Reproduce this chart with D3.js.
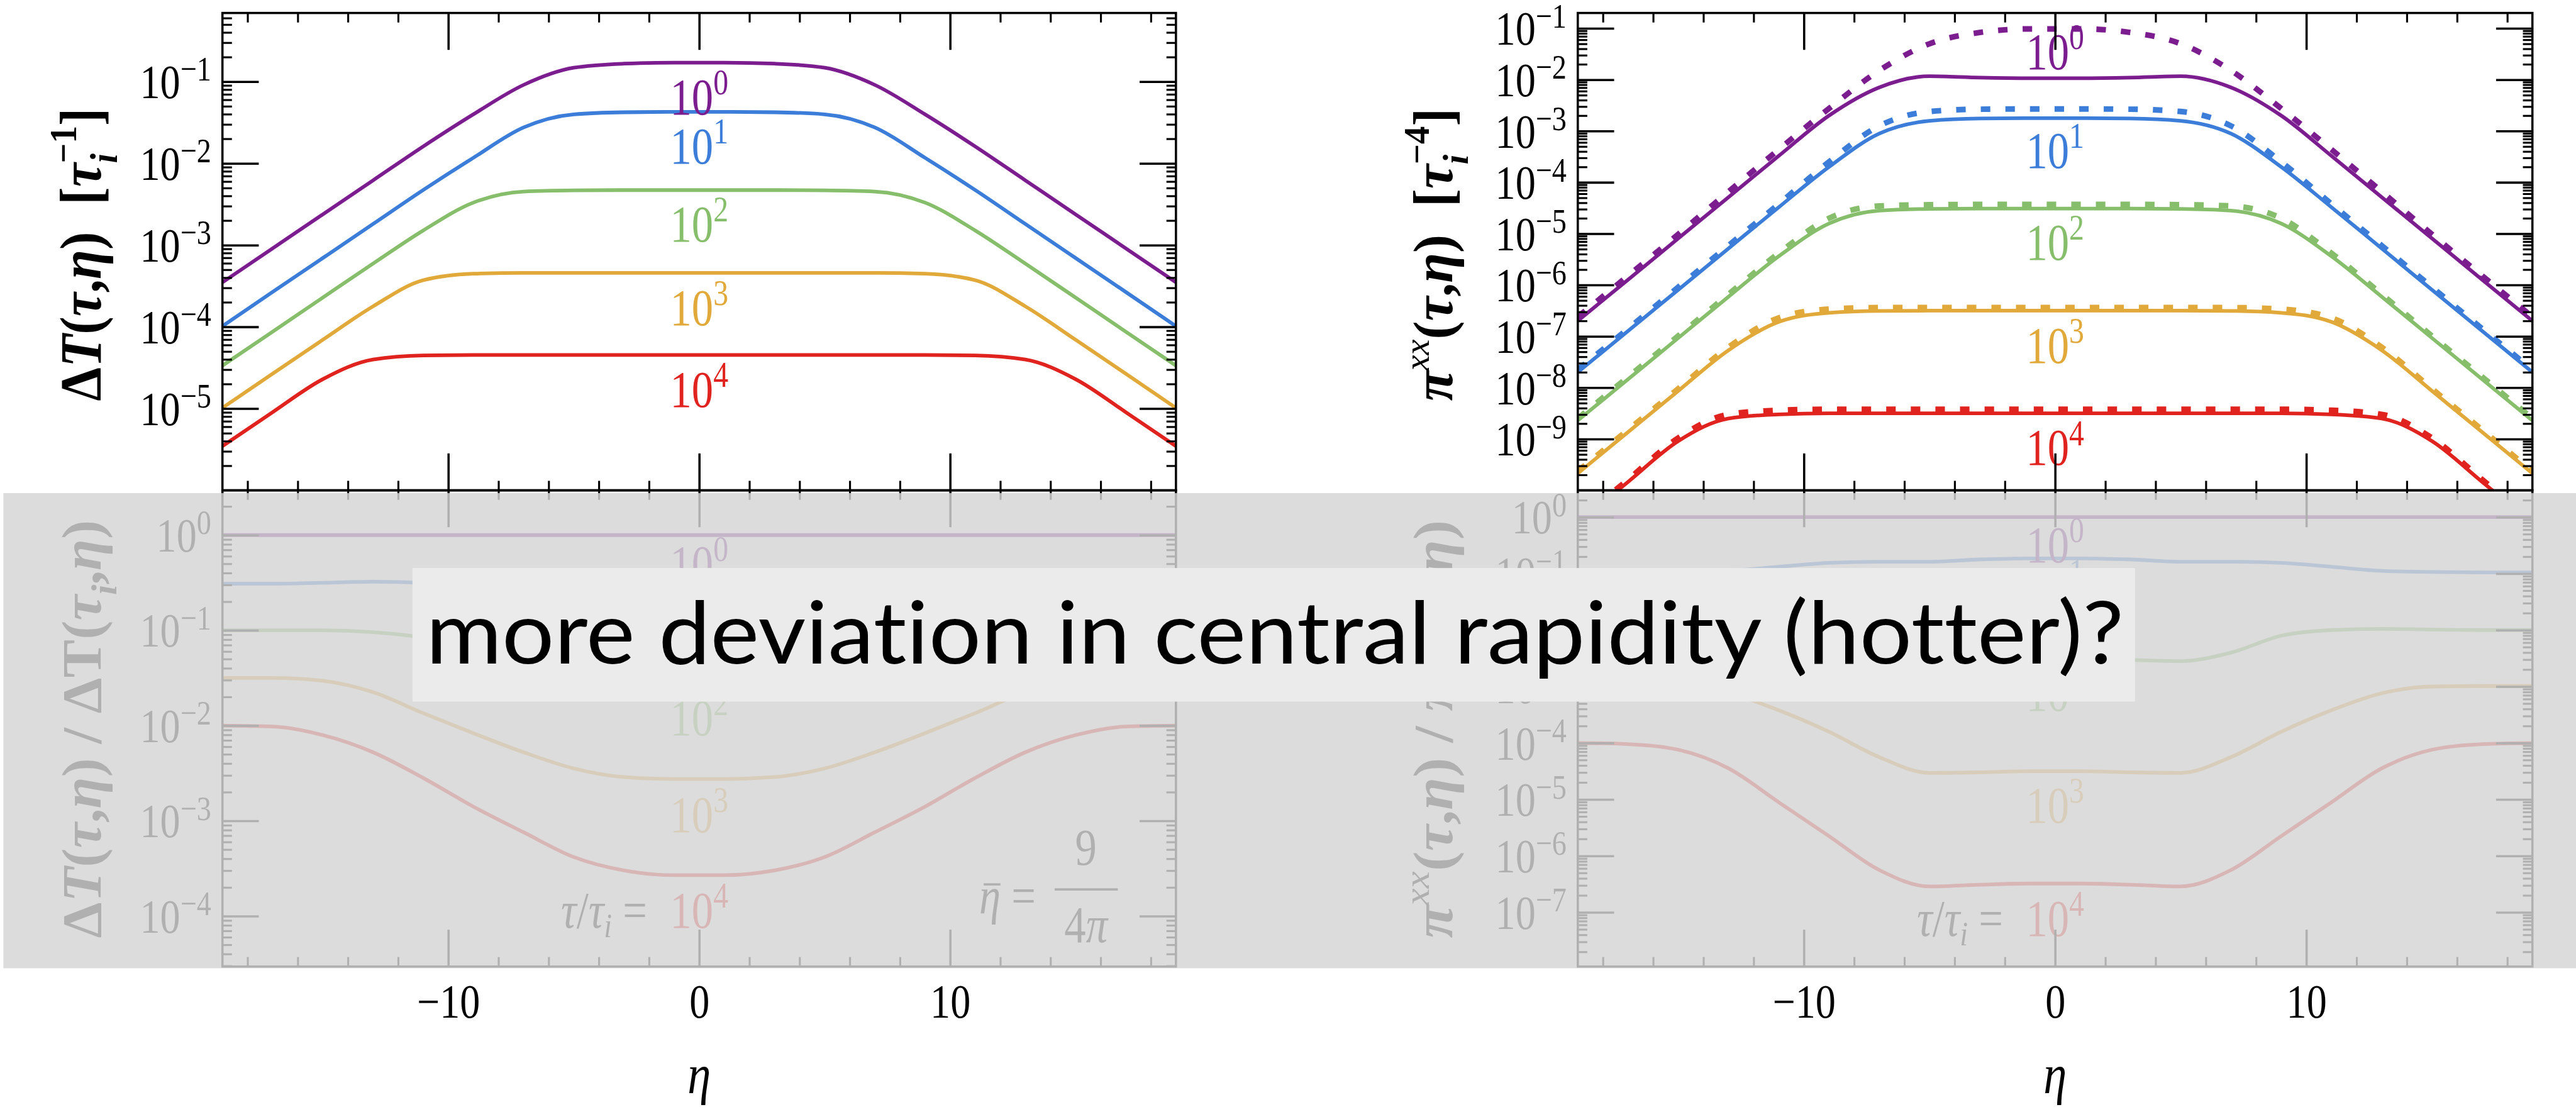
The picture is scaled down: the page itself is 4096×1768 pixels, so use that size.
<!DOCTYPE html>
<html>
<head>
<meta charset="utf-8">
<script src="https://cdn.jsdelivr.net/npm/d3@7"></script>
<style>
html,body{margin:0;padding:0;background:#fff;overflow:hidden;}
svg{display:block;}
text{font-variant-ligatures:none;font-feature-settings:"liga" 0,"clig" 0,"dlig" 0;}
</style>
</head>
<body>
<svg id="chart" width="4096" height="1768" viewBox="0 0 4609 1989"></svg>
<script>
// ================= DATA =================
const eta = [-19,-17,-15,-13,-11,-9,-7,-5,-3,-1,1,3,5,7,9,11,13,15,17,19];
const tauExponents = ["0","1","2","3","4"];
const seriesColors = ["#7B1D8E","#3B7DD8","#86BE6C","#E1A83A","#E0231F"];
const xMajorTicks = [-10, 0, 10];
const yMajorTopLeft = [1e-1,1e-2,1e-3,1e-4,1e-5];
const yMajorTopRight = [1e-1,1e-2,1e-3,1e-4,1e-5,1e-6,1e-7,1e-8,1e-9];
const yMajorBottomLeft = [1,1e-1,1e-2,1e-3,1e-4];
const yMajorBottomRight = [1,1e-1,1e-2,1e-3,1e-4,1e-5,1e-6,1e-7];

// Delta T(tau, eta) [tau_i^-1]
const dT_tau1     = [3.50e-4,9.12e-4,2.38e-3,6.19e-3,1.61e-2,3.98e-2,9.12e-2,1.48e-1,1.66e-1,1.71e-1,1.71e-1,1.66e-1,1.48e-1,9.12e-2,3.98e-2,1.61e-2,6.19e-3,2.38e-3,9.12e-4,3.50e-4];
const dT_tau10    = [1.02e-4,2.67e-4,6.95e-4,1.81e-3,4.72e-3,1.17e-2,2.75e-2,3.98e-2,4.22e-2,4.27e-2,4.27e-2,4.22e-2,3.98e-2,2.75e-2,1.17e-2,4.72e-3,1.81e-3,6.95e-4,2.67e-4,1.02e-4];
const dT_tau100   = [3.35e-5,8.73e-5,2.28e-4,5.93e-4,1.51e-3,3.31e-3,4.52e-3,4.68e-3,4.71e-3,4.71e-3,4.71e-3,4.71e-3,4.68e-3,4.52e-3,3.31e-3,1.51e-3,5.93e-4,2.28e-4,8.73e-5,3.35e-5];
const dT_tau1000  = [1.02e-5,2.67e-5,6.95e-5,1.78e-4,3.72e-4,4.47e-4,4.58e-4,4.58e-4,4.58e-4,4.58e-4,4.58e-4,4.58e-4,4.58e-4,4.58e-4,4.47e-4,3.72e-4,1.78e-4,6.95e-5,2.67e-5,1.02e-5];
const dT_tau10000 = [3.47e-6,9.04e-6,2.29e-5,3.98e-5,4.47e-5,4.52e-5,4.52e-5,4.52e-5,4.52e-5,4.52e-5,4.52e-5,4.52e-5,4.52e-5,4.52e-5,4.52e-5,4.47e-5,3.98e-5,2.29e-5,9.04e-6,3.47e-6];

// pi^xx(tau, eta) [tau_i^-4], solid
const pi_tau1     = [2.00e-7,1.27e-6,8.09e-6,5.15e-5,3.28e-4,2.00e-3,7.08e-3,1.17e-2,1.10e-2,1.07e-2,1.07e-2,1.10e-2,1.17e-2,7.08e-3,2.00e-3,3.28e-4,5.15e-5,8.09e-6,1.27e-6,2.00e-7];
const pi_tau10    = [2.00e-8,1.27e-7,8.09e-7,5.15e-6,3.28e-5,2.00e-4,8.91e-4,1.58e-3,1.76e-3,1.78e-3,1.78e-3,1.76e-3,1.58e-3,8.91e-4,2.00e-4,3.28e-5,5.15e-6,8.09e-7,1.27e-7,2.00e-8];
const pi_tau100   = [2.29e-9,1.46e-8,9.29e-8,5.92e-7,3.63e-6,1.58e-5,2.82e-5,3.05e-5,3.09e-5,3.09e-5,3.09e-5,3.09e-5,3.05e-5,2.82e-5,1.58e-5,3.63e-6,5.92e-7,9.29e-8,1.46e-8,2.29e-9];
const pi_tau1000  = [2.14e-10,1.36e-9,8.67e-9,5.37e-8,1.91e-7,2.88e-7,3.13e-7,3.16e-7,3.16e-7,3.16e-7,3.16e-7,3.16e-7,3.16e-7,3.13e-7,2.88e-7,1.91e-7,5.37e-8,8.67e-9,1.36e-9,2.14e-10];
const pi_tau10000 = [2.29e-11,1.46e-10,9.12e-10,2.51e-9,3.02e-9,3.16e-9,3.16e-9,3.16e-9,3.16e-9,3.16e-9,3.16e-9,3.16e-9,3.16e-9,3.16e-9,3.16e-9,3.02e-9,2.51e-9,9.12e-10,1.46e-10,2.29e-11];

// pi^xx(tau, eta), dotted comparison curves
const piD_tau1     = [2.40e-7,1.51e-6,9.77e-6,6.61e-5,4.37e-4,2.75e-3,1.51e-2,5.01e-2,8.32e-2,9.77e-2,9.77e-2,8.32e-2,5.01e-2,1.51e-2,2.75e-3,4.37e-4,6.61e-5,9.77e-6,1.51e-6,2.40e-7];
const piD_tau10    = [2.24e-8,1.41e-7,9.12e-7,5.89e-6,3.80e-5,2.51e-4,1.26e-3,2.40e-3,2.66e-3,2.69e-3,2.69e-3,2.66e-3,2.40e-3,1.26e-3,2.51e-4,3.80e-5,5.89e-6,9.12e-7,1.41e-7,2.24e-8];
const piD_tau100   = [2.51e-9,1.62e-8,1.02e-7,6.61e-7,4.17e-6,2.00e-5,3.47e-5,3.67e-5,3.72e-5,3.72e-5,3.72e-5,3.72e-5,3.67e-5,3.47e-5,2.00e-5,4.17e-6,6.61e-7,1.02e-7,1.62e-8,2.51e-9];
const piD_tau1000  = [2.34e-10,1.51e-9,9.55e-9,6.17e-8,2.29e-7,3.39e-7,3.63e-7,3.63e-7,3.63e-7,3.63e-7,3.63e-7,3.63e-7,3.63e-7,3.63e-7,3.39e-7,2.29e-7,6.17e-8,9.55e-9,1.51e-9,2.34e-10];
const piD_tau10000 = [2.51e-11,1.62e-10,1.05e-9,3.02e-9,3.63e-9,3.80e-9,3.80e-9,3.80e-9,3.80e-9,3.80e-9,3.80e-9,3.80e-9,3.80e-9,3.80e-9,3.80e-9,3.63e-9,3.02e-9,1.05e-9,1.62e-10,2.51e-11];

// Delta T(tau,eta) / Delta T(tau_i,eta)
const rT_tau1     = [1,1,1,1,1,1,1,1,1,1,1,1,1,1,1,1,1,1,1,1];
const rT_tau10    = [0.309,0.309,0.316,0.324,0.316,0.288,0.263,0.251,0.251,0.251,0.251,0.251,0.251,0.263,0.288,0.316,0.324,0.316,0.309,0.309];
const rT_tau100   = [0.100,0.100,0.100,0.0955,0.0832,0.0562,0.0380,0.0302,0.0279,0.0275,0.0275,0.0279,0.0302,0.0380,0.0562,0.0832,0.0955,0.100,0.100,0.100];
const rT_tau1000  = [0.0316,0.0316,0.0295,0.0224,0.0135,8.32e-3,5.25e-3,3.55e-3,2.88e-3,2.75e-3,2.75e-3,2.88e-3,3.55e-3,5.25e-3,8.32e-3,0.0135,0.0224,0.0295,0.0316,0.0316];
const rT_tau10000 = [1.0e-2,9.77e-3,7.94e-3,5.25e-3,2.82e-3,1.41e-3,7.59e-4,4.17e-4,3.02e-4,2.69e-4,2.69e-4,3.02e-4,4.17e-4,7.59e-4,1.41e-3,2.82e-3,5.25e-3,7.94e-3,9.77e-3,1.0e-2];

// pi^xx(tau,eta) / pi^xx(tau_i,eta)
const rP_tau1     = [1,1,1,1,1,1,1,1,1,1,1,1,1,1,1,1,1,1,1,1];
const rP_tau10    = [0.105,0.105,0.107,0.112,0.132,0.155,0.162,0.162,0.178,0.186,0.186,0.178,0.162,0.162,0.155,0.132,0.112,0.107,0.105,0.105];
const rP_tau100   = [1.0e-2,1.0e-2,1.02e-2,1.05e-2,1.0e-2,7.94e-3,3.98e-3,2.82e-3,2.95e-3,3.02e-3,3.02e-3,2.95e-3,2.82e-3,3.98e-3,7.94e-3,1.0e-2,1.05e-2,1.02e-2,1.0e-2,1.0e-2];
const rP_tau1000  = [1.02e-3,1.02e-3,1.0e-3,7.59e-4,3.80e-4,1.58e-4,5.62e-5,2.95e-5,3.02e-5,3.16e-5,3.16e-5,3.02e-5,2.95e-5,5.62e-5,1.58e-4,3.80e-4,7.59e-4,1.0e-3,1.02e-3,1.02e-3];
const rP_tau10000 = [1.0e-4,9.55e-5,7.59e-5,3.55e-5,8.91e-6,2.24e-6,5.62e-7,2.88e-7,3.09e-7,3.24e-7,3.24e-7,3.09e-7,2.88e-7,5.62e-7,2.24e-6,8.91e-6,3.55e-5,7.59e-5,9.55e-5,1.0e-4];

// curve-label anchor levels (data units, label baseline), label at eta = 0
const labelLevelsTopLeft     = [4.0e-2, 1.0e-2, 1.1e-3, 1.05e-4, 1.05e-5];
const labelLevelsTopRight    = [1.6e-2, 1.9e-4, 3.1e-6, 3.0e-8, 3.1e-10];
const labelLevelsBottomLeft  = [0.326, 4.9e-2, 7.9e-3, 7.6e-4, 7.5e-5];
const labelLevelsBottomRight = [0.158, 2.95e-2, 3.7e-4, 3.9e-6, 3.8e-8];

const overlayMessage = "more deviation in central rapidity (hotter)?";

// ================= DRAWING =================
const svg = d3.select("#chart");
const COND = 0.84;   // horizontal condensation of the serif lettering
const serif = "'Liberation Serif','Times New Roman',serif";
const xDomain = [-19, 19];

function logMinors(domain){
  const [a,b] = domain, out = [];
  for (let k = Math.floor(Math.log10(a)); k <= Math.ceil(Math.log10(b)); k++)
    for (let m = 2; m <= 9; m++){ const v = m*Math.pow(10,k); if (v > a*1.0001 && v < b*0.9999) out.push(v); }
  return out;
}
function expString(v){ const e = Math.round(Math.log10(v)); return e < 0 ? "\u2212" + (-e) : String(e); }
const xMinorTicks = d3.range(-18, 19, 2).filter(v => v % 10 !== 0);

function drawPanel(P){
  const g = svg.append("g");
  const xs = d3.scaleLinear(xDomain, [P.x0, P.x1]);
  const ys = d3.scaleLog(P.yDomain, [P.y1, P.y0]);
  const clipId = "clip" + P.id;
  svg.append("clipPath").attr("id", clipId).append("rect")
    .attr("x", P.x0).attr("y", P.y0).attr("width", P.x1-P.x0).attr("height", P.y1-P.y0);
  const cg = g.append("g").attr("clip-path", `url(#${clipId})`);
  const line = d3.line().x((d,i) => xs(eta[i])).y(d => ys(d)).curve(d3.curveMonotoneX);
  (P.dashed || []).forEach((arr,i) => cg.append("path").attr("d", line(arr))
      .attr("fill","none").attr("stroke", seriesColors[i]).attr("stroke-width", 10)
      .attr("stroke-dasharray","17 27"));
  P.series.forEach((arr,i) => cg.append("path").attr("d", line(arr))
      .attr("fill","none").attr("stroke", seriesColors[i]).attr("stroke-width", 6.5)
      .attr("stroke-linejoin","round"));

  // curve labels
  P.labels.forEach((v,i) => {
    const t = g.append("text")
      .attr("transform", `translate(${xs(0)},${ys(v)}) scale(${COND},1)`)
      .attr("text-anchor","middle").attr("font-family", serif).attr("font-size", 92)
      .attr("fill", seriesColors[i]);
    t.append("tspan").text("10");
    t.append("tspan").attr("dy", -36).attr("font-size", 64).text(tauExponents[i]);
  });

  // frame and ticks
  const ax = g.append("g").attr("color", "#000");
  const clean = (sel, w) => { sel.select(".domain").remove(); sel.selectAll(".tick line").attr("stroke-width", w); sel.attr("font-family", serif); };
  const blank = () => "";

  const gl = ax.append("g").attr("transform", `translate(${P.x0},0)`)
    .call(d3.axisLeft(ys).tickValues(P.majors).tickSize(-65).tickFormat(blank));
  clean(gl, 4);
  gl.selectAll(".tick text").each(function(d){
    const t = d3.select(this).attr("x", -20/COND).attr("y", 29).attr("dy", null)
      .attr("transform", `scale(${COND},1)`).attr("font-size", 86).attr("fill", "#000")
      .attr("text-anchor","end");
    t.append("tspan").text("10");
    t.append("tspan").attr("dy", -31).attr("font-size", 62).text(expString(d));
  });
  clean(ax.append("g").attr("transform", `translate(${P.x0},0)`)
    .call(d3.axisLeft(ys).tickValues(logMinors(P.yDomain)).tickSize(-17).tickFormat(blank)), 3.5);
  clean(ax.append("g").attr("transform", `translate(${P.x1},0)`)
    .call(d3.axisRight(ys).tickValues(P.majors).tickSize(-65).tickFormat(blank)), 4);
  clean(ax.append("g").attr("transform", `translate(${P.x1},0)`)
    .call(d3.axisRight(ys).tickValues(logMinors(P.yDomain)).tickSize(-17).tickFormat(blank)), 3.5);

  clean(ax.append("g").attr("transform", `translate(0,${P.y0})`)
    .call(d3.axisTop(xs).tickValues(xMajorTicks).tickSize(-66).tickFormat(blank)), 4);
  clean(ax.append("g").attr("transform", `translate(0,${P.y0})`)
    .call(d3.axisTop(xs).tickValues(xMinorTicks).tickSize(-17).tickFormat(blank)), 3.5);
  const gb = ax.append("g").attr("transform", `translate(0,${P.y1})`)
    .call(d3.axisBottom(xs).tickValues(xMajorTicks).tickSize(-66).tickFormat(blank));
  clean(gb, 4);
  if (P.xLabels){
    gb.selectAll(".tick text").each(function(d){
      d3.select(this).attr("y", 91).attr("dy", null).attr("transform", `scale(${COND},1)`)
        .attr("font-size", 86).attr("fill", "#000").attr("text-anchor","middle")
        .text(d < 0 ? "\u2212" + (-d) : String(d));
    });
  }
  clean(ax.append("g").attr("transform", `translate(0,${P.y1})`)
    .call(d3.axisBottom(xs).tickValues(xMinorTicks).tickSize(-17).tickFormat(blank)), 3.5);

  ax.append("rect").attr("x", P.x0).attr("y", P.y0).attr("width", P.x1-P.x0).attr("height", P.y1-P.y0)
    .attr("fill","none").attr("stroke","#000").attr("stroke-width", 4);
  return {g, xs, ys};
}

// rotated bold axis title built from pieces
function yTitle(cx, cy, target, perp, parts){
  const t = svg.append("text").attr("font-family", serif).attr("font-size", 100)
    .attr("font-weight","bold").attr("fill","#000").attr("text-anchor","middle");
  let cur = 0;
  parts.forEach(p => {
    const s = (p.s || 0) * 100;
    const ts = t.append("tspan").text(p.t).attr("dy", s - cur);
    cur = s;
    if (p.i) ts.attr("font-style","italic");
    if (p.z) ts.attr("font-size", 100*p.z);
    if (p.dx) ts.attr("dx", p.dx*100);
    if (p.w) ts.attr("font-weight", p.w);
  });
  const len = t.node().getComputedTextLength();
  t.attr("transform", `translate(${cx},${cy}) rotate(-90) scale(${target/len},${perp})`);
  return t;
}

// ---------- top panels ----------
drawPanel({id:"TL", x0:398, x1:2104, y0:23, y1:877, yDomain:[1e-6, Math.pow(10,-0.16)],
  majors:yMajorTopLeft, series:[dT_tau1,dT_tau10,dT_tau100,dT_tau1000,dT_tau10000],
  labels:labelLevelsTopLeft});
drawPanel({id:"TR", x0:2823, x1:4531, y0:23, y1:877, yDomain:[1e-10, Math.pow(10,-0.7)],
  majors:yMajorTopRight, series:[pi_tau1,pi_tau10,pi_tau100,pi_tau1000,pi_tau10000],
  dashed:[piD_tau1,piD_tau10,piD_tau100,piD_tau1000,piD_tau10000],
  labels:labelLevelsTopRight});

// ---------- bottom panels ----------
const BL = drawPanel({id:"BL", x0:398, x1:2104, y0:877, y1:1729, yDomain:[Math.pow(10,-4.53), Math.pow(10,0.47)],
  majors:yMajorBottomLeft, series:[rT_tau1,rT_tau10,rT_tau100,rT_tau1000,rT_tau10000],
  labels:labelLevelsBottomLeft, xLabels:true});
const BR = drawPanel({id:"BR", x0:2823, x1:4531, y0:877, y1:1729, yDomain:[Math.pow(10,-7.96), Math.pow(10,0.475)],
  majors:yMajorBottomRight, series:[rP_tau1,rP_tau10,rP_tau100,rP_tau1000,rP_tau10000],
  labels:labelLevelsBottomRight, xLabels:true});

// "tau/tau_i =" prefixes
[[BL, labelLevelsBottomLeft[4]], [BR, labelLevelsBottomRight[4]]].forEach(([P, v]) => {
  const t = svg.append("text").attr("transform", `translate(${P.xs(0)-93},${P.ys(v)}) scale(${COND},1)`)
    .attr("text-anchor","end").attr("font-family", serif).attr("font-size", 92).attr("fill","#000");
  t.append("tspan").attr("font-style","italic").text("τ");
  t.append("tspan").text("/");
  t.append("tspan").attr("font-style","italic").text("τ");
  t.append("tspan").attr("font-style","italic").attr("font-size",62).attr("dy",16).text("i");
  t.append("tspan").attr("dy",-16).text(" =");
});

// eta-bar = 9/(4 pi)
(function(){
  const g = svg.append("g").attr("font-family", serif).attr("fill","#000");
  g.append("text").attr("transform", `translate(1752,1634) scale(${COND},1)`).attr("font-size",92)
    .html('<tspan font-style="italic">η</tspan> =');
  g.append("line").attr("x1",1760).attr("x2",1790).attr("y1",1582).attr("y2",1582)
    .attr("stroke","#000").attr("stroke-width",4);
  g.append("text").attr("transform", `translate(1943,1547) scale(${COND},1)`).attr("font-size",92)
    .attr("text-anchor","middle").text("9");
  g.append("line").attr("x1",1887).attr("x2",2000).attr("y1",1591).attr("y2",1591)
    .attr("stroke","#000").attr("stroke-width",4);
  g.append("text").attr("transform", `translate(1943,1685) scale(${COND},1)`).attr("font-size",92)
    .attr("text-anchor","middle").html('4<tspan font-style="italic">π</tspan>');
})();

// axis titles
yTitle(180, 455, 542, 1.05, [{t:"Δ"},{t:"T",i:1},{t:"("},{t:"τ",i:1},{t:","},{t:"η",i:1},{t:")"},{t:"\u2002["},
  {t:"τ",i:1},{t:"i",i:1,s:0.28,z:0.65},{t:"\u22121",s:-0.42,z:0.65,dx:-0.18},{t:"]",s:0}]);
yTitle(2598, 455, 542, 1.0, [{t:"π",i:1},{t:"xx",i:1,s:-0.42,z:0.65,w:"normal"},{t:"(",s:0},{t:"τ",i:1},{t:","},{t:"η",i:1},{t:")"},{t:"\u2002["},
  {t:"τ",i:1},{t:"i",i:1,s:0.28,z:0.65},{t:"\u22124",s:-0.42,z:0.65,dx:-0.18},{t:"]",s:0}]);
yTitle(180, 1304, 748, 1.0, [{t:"Δ"},{t:"T",i:1},{t:"("},{t:"τ",i:1},{t:","},{t:"η",i:1},{t:")"},{t:" / "},
  {t:"Δ"},{t:"T"},{t:"("},{t:"τ",i:1},{t:"i",i:1,s:0.28,z:0.65},{t:",",s:0},{t:"η",i:1},{t:")"}]);
yTitle(2598, 1304, 748, 1.0, [{t:"π",i:1},{t:"xx",i:1,s:-0.42,z:0.65,w:"normal"},{t:"(",s:0},{t:"τ",i:1},{t:","},{t:"η",i:1},{t:")"},{t:" / "},
  {t:"π",i:1},{t:"xx",i:1,s:-0.42,z:0.65,w:"normal"},{t:"(",s:0},{t:"τ",i:1},{t:"i",i:1,s:0.28,z:0.65},{t:",",s:0},{t:"η",i:1},{t:")"}]);

// x titles
[BL, BR].forEach(P => {
  svg.append("text").attr("transform", `translate(${P.xs(0)},1955) scale(${COND},1)`)
    .attr("text-anchor","middle").attr("font-family", serif).attr("font-style","italic")
    .attr("font-size", 100).attr("fill","#000").text("η");
});

// translucent grey veil over the lower row
svg.append("rect").attr("x", 6).attr("y", 882).attr("width", 4609-6).attr("height", 1732-882)
  .attr("fill", "rgb(213,213,213)").attr("fill-opacity", 0.827);

// annotation box
svg.append("rect").attr("x", 738).attr("y", 1016).attr("width", 3820-738).attr("height", 1255-1016)
  .attr("fill", "#EBEBEB");
const msg = svg.append("text").attr("x", 762).attr("y", 1187)
  .attr("font-family", "Lato, 'Open Sans', sans-serif").attr("font-size", 155).attr("fill", "#000")
  .text(overlayMessage);
const mw = msg.node().getComputedTextLength();
msg.attr("transform", `translate(762,0) scale(${3038/mw},1) translate(-762,0)`);
</script>
</body>
</html>
